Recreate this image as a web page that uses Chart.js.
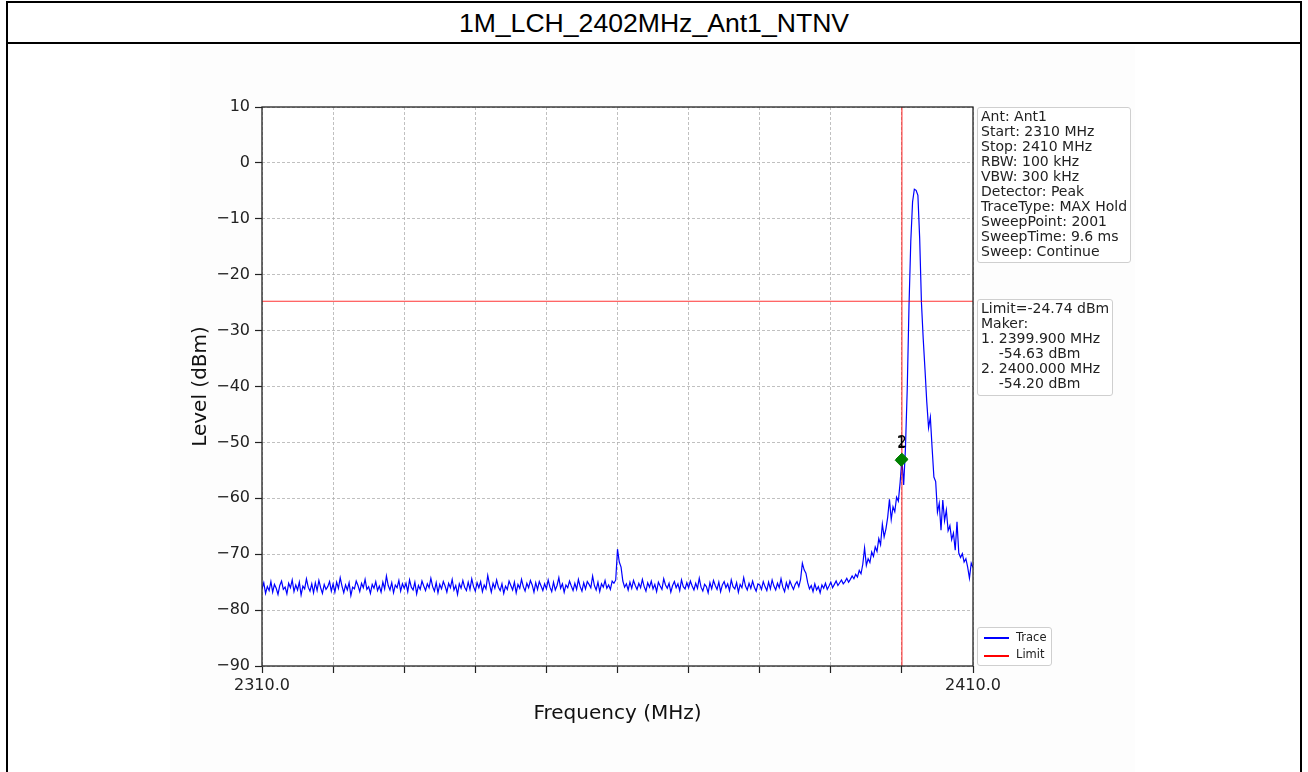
<!DOCTYPE html>
<html>
<head>
<meta charset="utf-8">
<script src="https://cdn.jsdelivr.net/npm/chart.js@4.4.0/dist/chart.umd.min.js"></script>
<style>
  html, body { margin:0; padding:0; background:#fff; width:1308px; height:772px; overflow:hidden; }
  #frame { position:absolute; left:6px; top:1px; width:1296px; height:800px; border:2px solid #000; box-sizing:border-box; }
  #titlebar { position:absolute; left:6px; top:1px; width:1296px; height:43px; border-bottom:2px solid #000; box-sizing:border-box;
    font-family:"Liberation Sans", Arial, sans-serif; font-size:26.6px; text-align:center; line-height:44px; color:#000; }
  #figbg { position:absolute; left:170px; top:46px; width:965px; height:726px; background:#fdfdfd; }
  #chart { position:absolute; left:0; top:0; }
  .box { position:absolute; background:#fff; border:1px solid #cfcfcf; border-radius:3px; box-sizing:border-box;
    font-family:"DejaVu Sans", sans-serif; font-size:14px; line-height:15px; color:#222; white-space:pre; padding:1px 3px; }
  .leg { position:absolute; font-family:"DejaVu Sans", sans-serif; font-size:11.5px; line-height:13px; color:#222; }
  .legline { position:absolute; height:1.5px; width:25px; }
</style>
</head>
<body>
<div id="figbg"></div>
<div id="frame"></div>
<div id="titlebar">1M_LCH_2402MHz_Ant1_NTNV</div>
<canvas id="chart" width="1308" height="772"></canvas>
<div class="box" id="infoBox" style="left:977px; top:107px; width:154px; height:156px;"></div>
<div class="box" id="limitBox" style="left:977px; top:299px; width:136px; height:97px;"></div>
<div class="box" style="left:977px; top:627px; width:75px; height:39px; padding:0;">
  <div class="legline" style="left:6px; top:9px; background:#0000ff;"></div>
  <div class="leg" style="left:38px; top:3px;">Trace</div>
  <div class="legline" style="left:6px; top:27px; background:#ff0000;"></div>
  <div class="leg" style="left:38px; top:20px;">Limit</div>
</div>
<script>
// ---- data ----
const START_MHZ = 2310;
const STOP_MHZ = 2410;
const LIMIT_DBM = -24.74;
const MARK_LINE_MHZ = 2400;
const xTickLabels = [2310, 2410];
const yTicks = [-90, -80, -70, -60, -50, -40, -30, -20, -10, 0, 10];

const traceLevels = [
-76.2,-75.1,-77.0,-75.8,-76.5,-74.9,-76.8,-75.4,-76.1,-77.2,
-75.6,-74.8,-76.3,-75.9,-77.1,-75.2,-76.0,-74.6,-76.7,-75.5,
-76.4,-75.0,-77.3,-75.7,-76.2,-74.4,-75.9,-76.6,-75.3,-76.9,
-75.1,-76.5,-74.7,-76.0,-77.0,-75.4,-76.3,-75.8,-74.9,-76.6,
-75.3,-76.8,-75.0,-76.1,-74.2,-75.7,-76.9,-75.5,-76.4,-75.1,
-77.4,-75.9,-76.2,-74.8,-75.6,-76.7,-75.2,-76.0,-74.5,-76.3,
-75.8,-77.0,-75.4,-76.1,-74.9,-76.5,-75.7,-76.8,-75.0,-76.2,
-73.9,-75.6,-76.4,-75.1,-76.9,-75.5,-76.0,-74.7,-76.6,-75.3,
-76.1,-75.2,-76.7,-74.6,-75.9,-76.4,-75.0,-77.1,-75.6,-76.3,
-74.8,-75.7,-76.5,-75.3,-76.0,-74.3,-75.8,-76.6,-75.1,-76.9,
-75.4,-76.2,-74.9,-75.7,-76.8,-75.2,-76.0,-74.5,-76.4,-75.6,
-77.2,-75.3,-76.1,-74.7,-75.9,-76.5,-75.0,-76.3,-74.4,-75.8,
-76.6,-75.1,-76.0,-74.9,-76.7,-75.5,-76.2,-73.8,-75.4,-76.8,
-75.2,-76.1,-74.6,-75.9,-76.5,-75.3,-77.0,-75.7,-76.3,-74.8,
-75.6,-76.4,-75.0,-76.9,-75.4,-76.1,-74.5,-75.8,-76.6,-75.2,
-76.0,-74.7,-75.5,-76.8,-75.1,-76.3,-74.9,-75.7,-76.5,-75.3,
-76.2,-74.6,-75.9,-76.7,-75.0,-76.4,-75.6,-74.2,-76.1,-75.3,
-76.8,-75.5,-76.0,-74.8,-75.7,-76.5,-75.2,-76.3,-74.5,-75.8,
-76.6,-75.1,-76.2,-74.9,-75.4,-76.0,-73.9,-75.6,-76.4,-75.0,
-76.7,-75.3,-75.9,-74.7,-76.1,-75.5,-76.3,-74.8,-75.2,-74.6,
-69.1,-71.4,-72.3,-74.8,
-75.9,-75.3,-76.4,-75.0,-76.1,-74.7,-75.6,-76.3,-75.2,-76.0,
-74.5,-75.8,-76.6,-75.1,-75.9,-74.8,-76.2,-75.4,-76.7,-75.0,
-75.7,-76.3,-74.4,-75.5,-76.1,-75.2,-76.8,-75.6,-74.9,-76.0,
-75.3,-76.5,-74.6,-75.8,-76.2,-75.1,
-76.0,-74.8,-75.7,-76.4,-75.2,-76.1,-74.3,-75.9,-76.6,-75.4,
-75.8,-76.9,-75.1,-76.2,-74.7,-75.6,-76.3,-75.0,-76.7,-75.5,
-74.9,-76.0,-75.3,-76.5,-74.6,-75.8,-76.2,-75.1,-76.8,-75.4,
-76.0,-74.2,-75.7,-76.4,-75.2,-76.1,-74.8,-75.9,-76.6,-75.3,
-75.5,-76.3,-74.9,-75.8,-76.5,-75.0,-76.2,-74.6,-75.7,-76.4,
-75.2,-76.0,-74.4,-75.9,-76.7,-75.1,-76.1,-74.8,-75.6,-76.3,
-75.4,-74.9,-75.8,-74.5,
-71.6,-72.8,-73.4,-75.1,
-76.2,-75.6,-76.7,-75.3,-76.4,-75.8,-76.9,-75.5,-76.1,-75.2,
-76.3,-75.7,-75.0,-76.0,-75.4,-74.8,-75.6,-75.1,-74.6,-75.3,
-74.9,-74.3,-75.0,-74.5,-73.9,
-74.4,-73.6,-74.1,-72.9,-73.5,-71.8,-68.9,-72.0,-70.8,-71.5,
-69.6,-70.4,-68.7,-69.5,-67.2,-68.3,-64.6,-66.9,-65.5,-63.4,
-60.2,-63.8,-61.5,-62.4,-59.8,-60.5,-57.2,
-53.0,-57.6,-51.0,-40.5,-25.5,-14.0,-7.0,-4.7,-4.9,-5.8,
-13.5,-25.0,-31.5,-37.0,-42.8,-47.4,-45.5,-51.0,-56.2,-57.0,
-62.5,-60.9,-65.7,-60.3,-64.0,-62.1,-65.8,-64.9,-67.4,-66.2,
-69.3,-64.2,-69.8,-70.6,-69.9,-71.4,-70.8,-72.3,-74.3,-71.6,
-72.4
];

const markerLabels = ['1', '2'];
const markerFreqs = [2399.9, 2400.0];
const markerLevels = [-53.2, -53.0];   // as drawn on the plot
const markerReadouts = ['-54.63', '-54.20'];

const infoLines = ['Ant: Ant1','Start: 2310 MHz','Stop: 2410 MHz','RBW: 100 kHz','VBW: 300 kHz',
  'Detector: Peak','TraceType: MAX Hold','SweepPoint: 2001','SweepTime: 9.6 ms','Sweep: Continue'];

// ---- text boxes ----
document.getElementById('infoBox').textContent = infoLines.join('\n');
document.getElementById('limitBox').textContent =
  'Limit=' + LIMIT_DBM.toFixed(2) + ' dBm\nMaker:\n' +
  markerLabels.map((l, i) => l + '. ' + markerFreqs[i].toFixed(3) + ' MHz\n    ' + markerReadouts[i] + ' dBm').join('\n');

// ---- datasets ----
const step = (STOP_MHZ - START_MHZ) / (traceLevels.length - 1);
const traceData = traceLevels.map((v, i) => ({ x: START_MHZ + i * step, y: v }));
const limitData = [{ x: START_MHZ, y: LIMIT_DBM }, { x: STOP_MHZ, y: LIMIT_DBM }];
const vlineData = [{ x: MARK_LINE_MHZ, y: yTicks[0] }, { x: MARK_LINE_MHZ, y: yTicks[yTicks.length - 1] }];
const markerData = markerFreqs.map((f, i) => ({ x: f, y: markerLevels[i] }));

Chart.defaults.font.family = '"DejaVu Sans", sans-serif';
Chart.defaults.color = '#222';

const framePlugin = {
  id: 'frame',
  beforeDatasetsDraw(chart) {
    const { ctx, chartArea: a } = chart;
    ctx.save();
    ctx.fillStyle = '#ffffff';
    ctx.globalCompositeOperation = 'destination-over';
    ctx.fillRect(a.left, a.top, a.right - a.left, a.bottom - a.top);
    ctx.restore();
  },
  afterDraw(chart) {
    const { ctx, chartArea: a } = chart;
    ctx.save();
    ctx.strokeStyle = '#222';
    ctx.lineWidth = 1.3;
    ctx.strokeRect(a.left, a.top, a.right - a.left, a.bottom - a.top);
    // marker labels
    const xs = chart.scales.x, ys = chart.scales.y;
    ctx.fillStyle = '#000';
    ctx.font = '15px "DejaVu Sans", sans-serif';
    ctx.textAlign = 'center';
    ctx.textBaseline = 'middle';
    markerLabels.forEach((l, i) => {
      ctx.fillText(l, xs.getPixelForValue(markerFreqs[i]), ys.getPixelForValue(markerLevels[i]) - 16);
    });
    ctx.restore();
  }
};

new Chart(document.getElementById('chart'), {
  type: 'line',
  data: {
    datasets: [
      { label: 'Trace', data: traceData, borderColor: '#0000ff', borderWidth: 1.2, pointRadius: 0, tension: 0, order: 4 },
      { label: 'Limit', data: limitData, borderColor: 'rgba(255,0,0,0.8)', borderWidth: 1.1, pointRadius: 0, order: 3 },
      { label: 'Marker line', data: vlineData, borderColor: 'rgba(255,0,0,0.8)', borderWidth: 1.1, pointRadius: 0, order: 2 },
      { label: 'Markers', data: markerData, showLine: false, pointStyle: 'rectRot', pointRadius: 6,
        backgroundColor: '#008000', borderColor: '#008000', order: 1 }
    ]
  },
  options: {
    responsive: false,
    animation: false,
    events: [],
    layout: { padding: { left: 185, right: 335, top: 107, bottom: 45 } },
    plugins: { legend: { display: false }, tooltip: { enabled: false }, title: { display: false } },
    scales: {
      x: {
        type: 'linear', min: START_MHZ, max: STOP_MHZ,
        afterFit(s) { s.height = 61; },
        ticks: { stepSize: 10, autoSkip: false, maxRotation: 0, padding: 3, color: '#222',
          font: { size: 16 },
          callback: (v) => xTickLabels.includes(v) ? v.toFixed(1) : '' },
        grid: { color: '#b0b0b0', lineWidth: 0.8, tickLength: 7, tickColor: '#222', tickWidth: 1.2 },
        border: { display: false, dash: [3, 2] },
        title: { display: true, text: 'Frequency (MHz)', font: { size: 20 }, color: '#111', padding: { top: 0, bottom: 1 } }
      },
      y: {
        type: 'linear', min: yTicks[0], max: yTicks[yTicks.length - 1],
        afterFit(s) { s.width = 77; },
        afterBuildTicks(s) { s.ticks = yTicks.map(v => ({ value: v })); },
        ticks: { padding: 5, color: '#222', font: { size: 16 },
          callback: (v) => v < 0 ? '\u2212' + Math.abs(v) : String(v) },
        grid: { color: '#b0b0b0', lineWidth: 0.8, tickLength: 7, tickColor: '#222', tickWidth: 1.2 },
        border: { display: false, dash: [3, 2] },
        title: { display: true, text: 'Level (dBm)', font: { size: 20 }, color: '#111', padding: { top: 4, bottom: 0 } }
      }
    }
  },
  plugins: [framePlugin]
});
</script>
</body>
</html>
